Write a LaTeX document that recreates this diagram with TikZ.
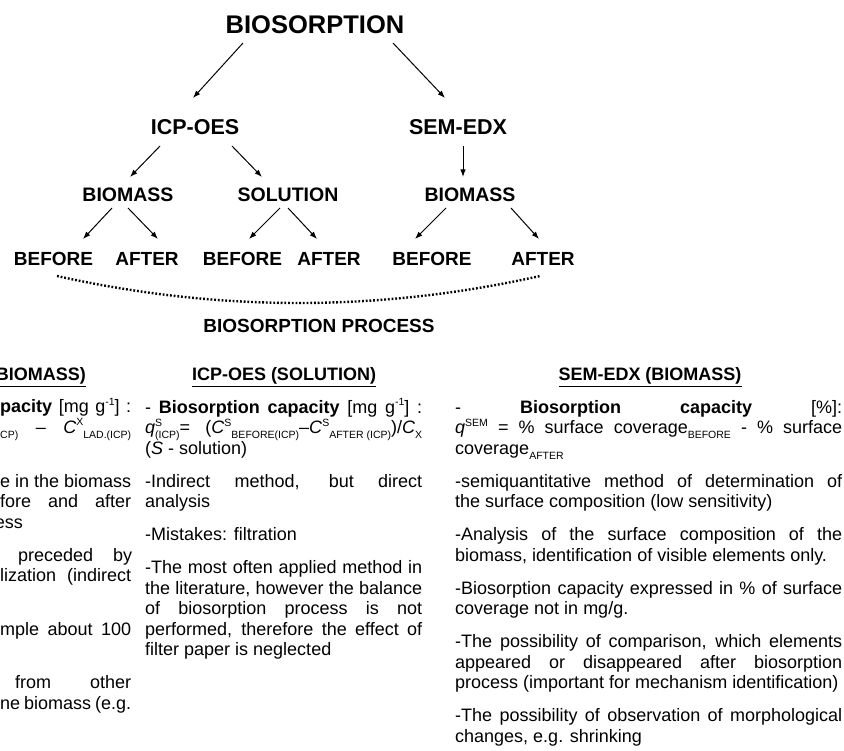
\documentclass[tikz,border=0pt]{standalone}
\usepackage{fontspec}
\setmainfont{Liberation Sans}
\usetikzlibrary{arrows.meta}
\hyphenpenalty=10000
\exhyphenpenalty=10000
\newcommand\mysup[1]{\raisebox{0.42em}{\fontsize{10.5}{10.5}\selectfont #1}}
\newcommand\mysub[1]{\raisebox{-0.28em}{\fontsize{10.5}{10.5}\selectfont #1}}
\newcommand\mysupsub[2]{\rlap{\mysup{#1}}\mysub{#2}}
\begin{document}
\begin{tikzpicture}[x=1pt,y=-1pt,
  ttl/.style={font=\bfseries\fontsize{25.5}{26}\selectfont, inner sep=0, anchor=base},
  big/.style={font=\bfseries\fontsize{21.5}{22}\selectfont, inner sep=0, anchor=base},
  lbl/.style={font=\bfseries\fontsize{19.5}{20}\selectfont, inner sep=0, anchor=base},
  leaf/.style={font=\bfseries\fontsize{19}{20}\selectfont, inner sep=0, anchor=base},
  hdr/.style={font=\bfseries\fontsize{18}{20}\selectfont, inner sep=0, anchor=base},
  arr/.style={line width=1pt, -{Latex[length=7.5pt,width=5.5pt]}},
  dots/.style={line width=2.4pt, dash pattern=on 1.8pt off 1.9pt},
  body/.style={font=\fontsize{18}{20.5}\selectfont, inner sep=0, anchor=north west, align=justify},
  frag/.style={font=\fontsize{18}{20.5}\selectfont, inner sep=0, anchor=base west}]
\useasboundingbox (0,0) rectangle (844,751);

% tree
\node[ttl] (title) at (315,34) {BIOSORPTION};
\node[big] (icp) at (195,134.5) {ICP-OES};
\node[big] (sem) at (458,134.5) {SEM-EDX};
\node[lbl] (bioL) at (128,201.5) {BIOMASS};
\node[lbl] (sol) at (288,201.5) {SOLUTION};
\node[lbl] (bioR) at (470,201.5) {BIOMASS};
\node[leaf] (b1) at (53.5,266) {BEFORE};
\node[leaf] (a1) at (147,266) {AFTER};
\node[leaf] (b2) at (242.5,266) {BEFORE};
\node[leaf] (a2) at (329,266) {AFTER};
\node[leaf] (b3) at (432,266) {BEFORE};
\node[leaf] (a3) at (543,266) {AFTER};
\node[leaf] (proc) at (319,333) {BIOSORPTION PROCESS};

% connector end points
\coordinate (t1) at (243,43);   \coordinate (i1) at (193,98);
\coordinate (t2) at (393,43);   \coordinate (s1) at (445,98);
\coordinate (i2) at (160,146);  \coordinate (bl1) at (130,177);
\coordinate (i3) at (232,146);  \coordinate (so1) at (262,177);
\coordinate (s2) at (463,146);  \coordinate (br1) at (463,177);
\coordinate (bl2) at (112,208); \coordinate (b1t) at (83,239);
\coordinate (bl3) at (128,208); \coordinate (a1t) at (158,239);
\coordinate (so2) at (280,208); \coordinate (b2t) at (249,239);
\coordinate (so3) at (288,208); \coordinate (a2t) at (317,239);
\coordinate (br2) at (446,208); \coordinate (b3t) at (415,239);
\coordinate (br3) at (511,208); \coordinate (a3t) at (539,239);
\coordinate (d1) at (57,276);   \coordinate (d2) at (540,276);

\draw[arr] (t1) -- (i1);
\draw[arr] (t2) -- (s1);
\draw[arr] (i2) -- (bl1);
\draw[arr] (i3) -- (so1);
\draw[arr] (s2) -- (br1);
\draw[arr] (bl2) -- (b1t);
\draw[arr] (bl3) -- (a1t);
\draw[arr] (so2) -- (b2t);
\draw[arr] (so3) -- (a2t);
\draw[arr] (br2) -- (b3t);
\draw[arr] (br3) -- (a3t);
\draw[dots] (d1) .. controls (218,312) and (379,312) .. (d2);

% headers
\node[hdr, anchor=base east] (hleft) at (86,381) {\underline{BIOMASS)}};
\node[hdr] (hmid) at (284,381) {\underline{ICP-OES (SOLUTION)}};
\node[hdr] (hright) at (650,381) {\underline{SEM-EDX (BIOMASS)}};

% left column (cut by the picture edge)
\node[frag] (l1) at (0,413) {\makebox[131pt][s]{\textbf{pacity} [mg g\mysup{-1}] :}};
\node[frag] (l2) at (0,433.5) {\makebox[131pt][s]{\mysub{CP)} – \textit{C}\mysup{X}\mysub{LAD.(ICP)}}};
\node[frag] (l3) at (0,487) {\makebox[131pt][s]{e in the biomass}};
\node[frag] (l4) at (0,507.5) {\makebox[131pt][s]{fore and after}};
\node[frag, anchor=base east] (l5) at (23,528) {ess};
\node[frag] (l6) at (18,561) {\makebox[114pt][s]{preceded by}};
\node[frag] (l7) at (0,581.5) {\makebox[131pt][s]{lization (indirect}};
\node[frag] (l8) at (0,635) {\makebox[131pt][s]{mple about 100}};
\node[frag] (l9) at (15,688.5) {\makebox[116pt][s]{from other}};
\node[frag] (l10) at (0,709) {\makebox[131pt][s]{ne biomass (e.g.}};

% middle column
\node[body, text width=277pt] (mid) at (145,398) {\setlength\parskip{12.5pt}\setlength\parindent{0pt}\rule{0pt}{15pt}- \textbf{Biosorption capacity} [mg g\mysup{-1}] :\linebreak
\textit{q}\mysupsub{S}{(ICP)}= (\textit{C}\mysup{S}\mysub{BEFORE(ICP)}–\textit{C}\mysup{S}\mysub{AFTER (ICP)})/\textit{C}\mysub{X}\linebreak
(\textit{S} - solution)\par
-Indirect method, but direct\linebreak analysis\par
-Mistakes: filtration\par
-The most often applied method in\linebreak the literature, however the balance\linebreak of biosorption process is not\linebreak performed, therefore the effect of\linebreak filter paper is neglected\par};

% right column
\node[body, text width=387pt] (rgt) at (455,398) {\setlength\parskip{12.5pt}\setlength\parindent{0pt}\rule{0pt}{15pt}- \textbf{Biosorption capacity} [\%]:\linebreak
\textit{q}\mysup{SEM} = \% surface coverage\mysub{BEFORE} - \% surface\linebreak coverage\mysub{AFTER}\par
-semiquantitative method of determination of\linebreak the surface composition (low sensitivity)\par
-Analysis of the surface composition of the\linebreak biomass, identification of visible elements only.\par
-Biosorption capacity expressed in \% of surface\linebreak coverage not in mg/g.\par
-The possibility of comparison, which elements\linebreak appeared or disappeared after biosorption\linebreak process (important for mechanism identification)\par
-The possibility of observation of morphological\linebreak changes, e.g. shrinking\par};
\end{tikzpicture}
\end{document}
